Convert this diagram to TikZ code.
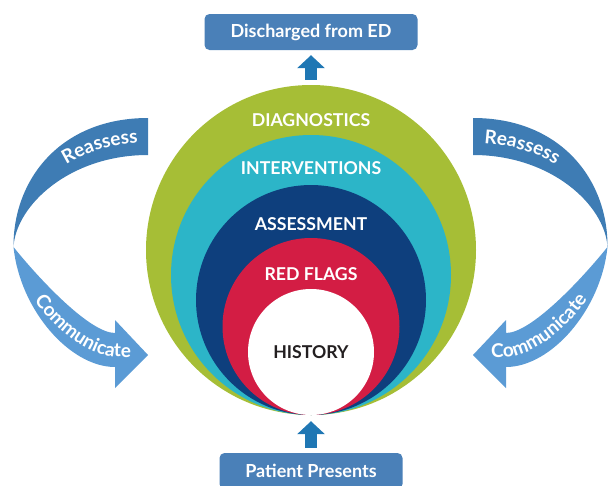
\documentclass[tikz,border=0pt]{standalone}
\usepackage{fontspec}
\setmainfont{Lato}
\usetikzlibrary{arrows.meta,decorations.text}

\definecolor{diaggreen}{HTML}{A6BE36}
\definecolor{intercyan}{HTML}{2CB5C8}
\definecolor{assessnavy}{HTML}{0E3F7D}
\definecolor{redflag}{HTML}{D31D44}
\definecolor{historyblack}{HTML}{231F20}
\definecolor{reassessblue}{HTML}{3E7CB4}
\definecolor{commblue}{HTML}{5B9BD5}
\definecolor{boxblue}{HTML}{4A80B8}
\definecolor{arrowblue}{HTML}{1F77B4}

\newcommand{\ringfont}{\fontsize{17.7}{17.7}\selectfont\bfseries}
\newcommand{\boxfont}{\fontsize{18}{18}\selectfont\bfseries}
\newcommand{\bandfont}{\fontsize{19}{19}\selectfont\bfseries\color{white}}

\tikzset{
  ring/.style={shape=circle, inner sep=0pt, minimum size=#1},
  ringlabel/.style={text=white, font=\ringfont},
  stepbox/.style={fill=boxblue, rounded corners=5pt, text=white, font=\boxfont, minimum height=36pt},
  uparrow/.style={draw=arrowblue, line width=12pt, -{Triangle[width=27pt, length=13pt]}},
}

\begin{document}
\begin{tikzpicture}[x=1pt, y=-1pt]
        \useasboundingbox (0,0) rectangle (608,485);
        \clip (0,0) rectangle (608,485);

        %rings
        \node[ring=330pt, fill=diaggreen] (diag) at (311,250) {};
        \node[ring=280pt, fill=intercyan] (inter) at (311,275) {};
        \node[ring=230pt, fill=assessnavy] (assess) at (311,300) {};
        \node[ring=177pt, fill=redflag] (flags) at (311,326.5) {};
        \node[ring=126pt, fill=white, text=historyblack, font=\ringfont] (history) at (311,352) {HISTORY};

        \node[ringlabel] (diaglabel) at (311,120) {DIAGNOSTICS};
        \node[ringlabel] (interlabel) at (311,168) {INTERVENTIONS};
        \node[ringlabel] (assesslabel) at (311,224) {ASSESSMENT};
        \node[ringlabel] (flagslabel) at (311,274) {RED FLAGS};

        %in and out
        \node[stepbox, minimum width=213pt] (discharged) at (311,32) {Discharged from ED};
        \node[stepbox, minimum width=183pt] (patient) at (311,471) {Patient Presents};

        \draw[uparrow, shorten <=5pt, shorten >=6pt] (patient.north) -- (history.south);
        \draw[uparrow, shorten <=5pt, shorten >=5pt] (diag.north) -- (discharged.south);

        %left loop
        \fill[reassessblue] (148,118) .. controls (60,118) and (13,180) .. (13.5,247)
            .. controls (16,205) and (70,155) .. (148,155) -- cycle;
        \fill[commblue] (13.5,247) .. controls (20,310) and (70,367) .. (115,367)
            -- (115,388) -- (148,355) -- (115,320) -- (115,333)
            .. controls (90,333) and (40,280) .. (13.5,247) -- cycle;
        \path[decorate, decoration={text along path, text={|\bandfont|Reassess},
            text align={align=right, right indent=10pt}}]
            (15,247) .. controls (17,190) and (70,143) .. (148,143);
        \path[decorate, decoration={text along path, text={|\bandfont|Communicate},
            text align={align=right, right indent=17pt}}]
            (11,251) .. controls (23,301) and (76,357) .. (118,357) -- (148,357);

        %right loop
        \fill[reassessblue] (473,118) .. controls (561,118) and (608,180) .. (607.5,247)
            .. controls (605,205) and (551,155) .. (473,155) -- cycle;
        \fill[commblue] (607.5,247) .. controls (601,310) and (551,367) .. (506,367)
            -- (506,388) -- (473,355) -- (506,320) -- (506,333)
            .. controls (531,333) and (581,280) .. (607.5,247) -- cycle;
        \path[decorate, decoration={text along path, text={|\bandfont|Reassess},
            text align={align=left, left indent=11pt}}]
            (473,143) .. controls (551,143) and (604,190) .. (606,247);
        \path[decorate, decoration={text along path, text={|\bandfont|Communicate},
            text align={align=left, left indent=18pt}}]
            (473,357) -- (503,357) .. controls (545,357) and (598,301) .. (610,251);
\end{tikzpicture}
\end{document}
